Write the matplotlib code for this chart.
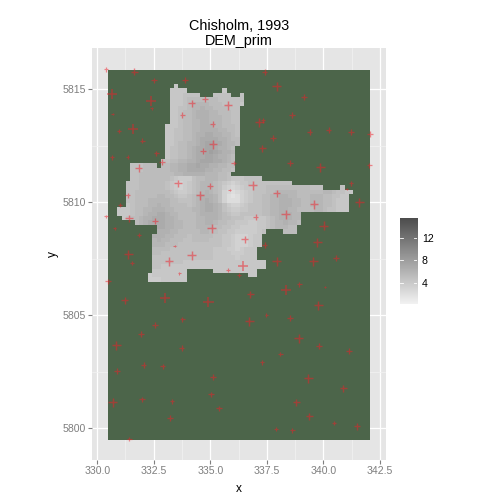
import numpy as np
import matplotlib
matplotlib.use('Agg')
import matplotlib.pyplot as plt
from matplotlib.colors import LinearSegmentedColormap

plt.rcParams['font.family'] = ['Liberation Sans', 'DejaVu Sans']

# outer extent of the study area (the green block)
area_x = [330.49, 342.08]
area_y = [5799.48, 5815.85]

# DEM grid: first cell corner and cell size
dem_x0 = 330.885
dem_y0 = 5815.235
dem_cell_x = 0.1934
dem_cell_y = 0.1945

# each row: first column, then one letter per cell (a=1.3, b=1.8, c=2.3 ...), '.' = no data
row_start = [13, 12, 12, 12, 12, 12, 12, 12, 12, 11, 11, 11, 11, 11, 11, 11, 11, 10, 3, 3, 3, 3, 2,
             2, 2, 2, 2, 2, 0, 0, 1, 4, 9, 9, 8, 8, 8, 8, 8, 8, 8, 8, 8, 7, 7]
row_shade = [
    "g",
    "gggg........g",
    "ggghhhh...hhhh..h",
    "ggghiiiiiiihhhhhh",
    "ggghijjjjiiihhhhg",
    "gghhijjkjjiiihhh",
    "gghiijkkkjjiiihh",
    "gghiijkkkjjjiihh",
    "gghiijjkkjjjiihh",
    "ggghiijjkkkjjiiih",
    "gghhiijjkkkkjjiih",
    "gghhiijkkllkkjjih",
    "gghhiijkllllkkjii",
    "gghiijjklmmllkjji",
    "ghhiijkllmmlkkji",
    "ghhiijkllmnmlkkj",
    "ghhiijkllmmlkkji",
    "hhiijjkklmmmllkji",
    "hhhiii.iijjkkllmllkkjjii",
    "hhhiiiiiijjkkllllkkjjiih",
    "hhiiiiiiiijjkkkkkjjjiih",
    "hhiiiiiiihgfffhiijjjiihggghhhh",
    "hhhiiiiiihgfefghijjjihgfefgghhhhhhhhhh",
    "hhhiiiiiihgfefghijjjihfedefgghhhiiiiiiiiiihhh....h",
    "hhiiiiiiiihgffghijkjihedcdefghhhiijjjjjiiiiiijjihhgg",
    "hhiiiiijjiihgghijkkkjhecbcefghhiijjkkjjiiijjjiihhgg",
    "hhiiijjjjjiihhhijklkjhecccefghhiijjkkkjjiijjjiihggg",
    "ghiiijjkjjiiiihijkllkjhfeefghhhiijjkkkjjiijjjiihggg",
    "ggghiijjkkkjjiiiijjkllkjhgffgghhhiijjkkjjiiiijjihhggg",
    "ggghiijkkllkjjiiiijkkkkjihgghhhhhiijjkkkjj",
    "ghiijkklllkkjiiiijjkkkjiihhhggggghijkkkjj",
    "ijkllllkkjjiiijjkkjiihhgggffgghijjkjji",
    "llkkjjiiijjjjiihhggffffgghijjjii",
    "kkkjjiiiiijjiihhggfffffgh....iii",
    "kkkjjiiihiiiiihhggfeeefgg",
    "jkjjiiihhiiiihhhggfeeefgg",
    "jjjiiihhhhhhhhhhggfeeefgg",
    "iiiihhhhhhhhhhgggffefggg",
    "iihhhhhhhhhhhhggggfffggg",
    "hhhhhhhhhhhhhhgggggfgggg",
    "hhhhhhhggggggggggggggggggg",
    "hhgggggggggggggggggggggggg",
    "gggggggg......gggggggggg",
    "fgggggggg..............gg",
    "fffgggggg",
]

# sample points, size in arbitrary units
pt_x = [330.38, 331.64, 332.51, 333.89, 330.65, 332.38, 334.17, 334.75, 335.78, 330.68, 332.42, 333.77,
        335.10, 331.58, 330.96, 332.00, 332.61, 330.65, 331.34, 334.66, 335.12, 332.88, 336.03, 331.83,
        333.57, 334.97, 331.34, 334.54, 335.85, 331.02, 337.40, 337.93, 339.15, 338.63, 337.17, 337.33,
        339.39, 340.23, 341.23, 342.05, 337.77, 337.30, 338.54, 339.87, 342.04, 341.21, 341.03, 341.59,
        336.87, 337.93, 339.59, 330.38, 331.40, 332.54, 335.06, 330.77, 331.85, 331.38, 331.54, 333.42,
        334.17, 333.17, 333.63, 335.77, 330.46, 333.01, 331.21, 334.92, 336.28, 337.00, 338.33, 340.01,
        337.40, 339.73, 336.52, 336.45, 337.93, 339.56, 340.56, 338.94, 340.06, 338.36, 336.77, 333.77,
        332.54, 331.92, 330.84, 333.73, 332.05, 332.89, 330.88, 335.13, 335.04, 331.98, 330.68, 333.32,
        335.37, 333.22, 331.42, 339.78, 337.48, 338.54, 336.73, 338.91, 339.81, 341.12, 338.10, 337.30,
        339.34, 340.88, 338.81, 339.38, 340.47, 341.49, 337.92, 338.63]
pt_y = [5815.88, 5815.78, 5815.41, 5815.40, 5814.78, 5814.47, 5814.38, 5814.56, 5814.29, 5813.91, 5814.16, 5813.85,
        5813.45, 5813.23, 5813.17, 5812.73, 5812.17, 5811.99, 5812.02, 5812.26, 5812.57, 5811.77, 5811.73, 5811.52,
        5810.84, 5810.73, 5810.31, 5810.31, 5810.53, 5809.88, 5815.75, 5815.13, 5814.65, 5813.85, 5813.54, 5813.63,
        5813.10, 5813.21, 5813.10, 5813.01, 5812.83, 5812.39, 5811.73, 5811.55, 5811.64, 5810.84, 5810.59, 5810.00,
        5810.75, 5810.40, 5809.91, 5809.38, 5809.29, 5809.16, 5808.85, 5808.85, 5808.55, 5807.70, 5807.31, 5808.07,
        5807.65, 5807.39, 5806.86, 5807.00, 5806.50, 5805.77, 5805.66, 5805.60, 5806.78, 5809.34, 5809.47, 5808.96,
        5808.12, 5808.23, 5808.36, 5807.19, 5807.39, 5807.39, 5807.52, 5806.37, 5806.24, 5806.11, 5805.93, 5804.82,
        5804.56, 5804.16, 5803.67, 5803.54, 5802.79, 5802.74, 5802.52, 5802.26, 5801.50, 5801.28, 5801.15, 5801.19,
        5800.88, 5800.44, 5799.54, 5805.44, 5805.03, 5804.87, 5804.73, 5803.98, 5803.63, 5803.41, 5803.29, 5802.92,
        5802.21, 5801.77, 5801.15, 5800.53, 5800.23, 5800.09, 5799.97, 5799.91]
pt_size = [3, 5, 3.5, 4, 7, 7, 5, 4, 6, 2, 2, 4,
           4, 7, 3, 3, 3.5, 3, 2.5, 4, 6, 4, 3, 5,
           5, 4, 3.5, 6, 1.5, 3, 4, 6, 4, 4, 6, 3,
           4, 4, 4, 4, 4, 5, 4, 6, 3.5, 3, 2, 6,
           6, 5, 6, 2.5, 5, 4, 6, 2.5, 3, 6, 3, 2,
           6, 6, 2, 2.5, 4, 7, 5, 7, 2.5, 4, 6, 6,
           4, 6, 5, 7, 6, 6, 4, 3, 1.5, 7, 5, 4,
           4, 4, 6, 4, 4, 4, 4, 4, 4, 4, 6, 3,
           4, 4, 3, 6, 2.5, 4, 6, 6, 4, 4, 3, 3,
           6, 5, 5, 5, 3, 4.5, 2.5, 3]

x_ticks = [330.0, 332.5, 335.0, 337.5, 340.0, 342.5]
x_labels = ['330.0', '332.5', '335.0', '337.5', '340.0', '342.5']
y_ticks = [5800, 5805, 5810, 5815]
legend_ticks = [4, 8, 12]
dem_min, dem_max = 0.3, 15.5

# turn the letter rows into a grid
n_cols = 54
dem = np.full((len(row_shade), n_cols), np.nan)
for r, (start, shade) in enumerate(zip(row_start, row_shade)):
    for c, ch in enumerate(shade):
        if ch != '.' and start + c < n_cols:
            dem[r, start + c] = 1.3 + (ord(ch) - 97) / 2

x_edges = dem_x0 + dem_cell_x * np.arange(n_cols + 1)
y_edges = dem_y0 - dem_cell_y * np.arange(len(row_shade) + 1)

grey_ramp = LinearSegmentedColormap.from_list('dem', ['#f2f2f2', '#4d4d4d'])

fig = plt.figure(figsize=(5, 5), dpi=100)
ax = fig.add_axes([92 / 500, 1 - 460 / 500, 294 / 500, 412 / 500])
ax.set_facecolor('#e5e5e5')
ax.set_xlim(329.77, 342.77)
ax.set_ylim(5798.6, 5816.83)

ax.set_xticks(x_ticks)
ax.set_xticklabels(x_labels)
ax.set_yticks(y_ticks)
ax.set_xticks([331.25, 333.75, 336.25, 338.75, 341.25], minor=True)
ax.set_yticks([5802.5, 5807.5, 5812.5], minor=True)
ax.grid(which='major', color='white', linewidth=0.9, zorder=0)
ax.grid(which='minor', color='#f2f2f2', linewidth=0.5, zorder=0)
ax.set_axisbelow(True)
ax.tick_params(which='major', length=2.6, width=0.8, color='#7f7f7f', labelcolor='#7f7f7f',
               labelsize=7.6, pad=2)
ax.tick_params(which='minor', length=0)
for s in ax.spines.values():
    s.set_visible(False)

ax.fill_between(area_x, area_y[0], area_y[1], color='#4c654a', linewidth=0, zorder=1)
ax.pcolormesh(x_edges, y_edges, np.ma.masked_invalid(dem), cmap=grey_ramp, vmin=dem_min, vmax=dem_max,
              antialiased=False, linewidth=0, zorder=2)

size_arr = np.array(pt_size)
ax.scatter(pt_x, pt_y, s=(size_arr * 1.05) ** 2, marker='+', color='#f01e28', alpha=0.5,
           linewidths=0.65 + 0.07 * size_arr, zorder=3, clip_on=False)

ax.set_xlabel('x', fontsize=8.6, labelpad=5)
ax.set_ylabel('y', fontsize=8.6, labelpad=2)
ax.set_title('Chisholm, 1993\nDEM_prim', fontsize=10.4, pad=2, linespacing=1.12)

# colour bar legend
cax = fig.add_axes([400 / 500, 1 - 304 / 500, 17 / 500, 86 / 500])
ramp = np.linspace(dem_min, dem_max, 200).reshape(-1, 1)
cax.imshow(ramp, origin='lower', aspect='auto', cmap=grey_ramp, extent=[0, 1, dem_min, dem_max])
for s in cax.spines.values():
    s.set_visible(False)
cax.set_xticks([])
cax.set_yticks(legend_ticks)
cax.yaxis.tick_right()
cax.tick_params(axis='y', length=0, labelsize=7.6, pad=3.5, labelcolor='black')
for v in legend_ticks:
    cax.plot([0, 0.2], [v, v], color='white', linewidth=0.6)
    cax.plot([0.8, 1], [v, v], color='white', linewidth=0.6)
cax.set_xlim(0, 1)
cax.set_ylim(dem_min, dem_max)

fig.savefig('out.png', dpi=100)
